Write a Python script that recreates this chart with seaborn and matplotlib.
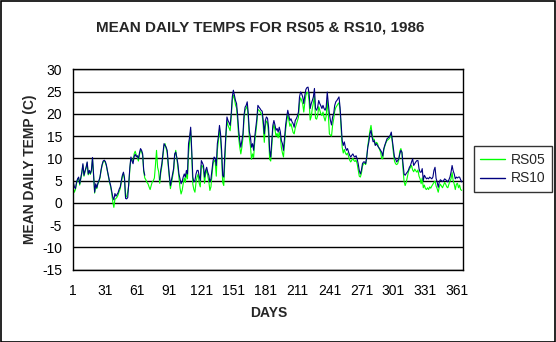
import numpy as np
import pandas as pd
import matplotlib
matplotlib.use("Agg")
import matplotlib.pyplot as plt
import seaborn as sns
from matplotlib.lines import Line2D
from matplotlib.patches import Rectangle

title = "MEAN DAILY TEMPS FOR RS05 & RS10, 1986"
xlabel = "DAYS"
ylabel = "MEAN DAILY TEMP (C)"
series_names = ["RS05", "RS10"]
series_colors = ["#00FF00", "#000080"]
xticks = [1, 31, 61, 91, 121, 151, 181, 211, 241, 271, 301, 331, 361]
yticks = [-15, -10, -5, 0, 5, 10, 15, 20, 25, 30]

nan = np.nan
rs10 = [
    4.7, 3.6, 3.2, 4.6, 5.4, 5.8, 4.3, 5.6, 6.9, 8.8,
    6.2, 7.2, 8.0, 9.2, 6.5, 7.3, 6.6, 7.4, 10.2, 6.4,
    2.4, 4.3, 3.4, 4.4, 5.0, 5.8, 7.4, 8.6, 9.4, 9.6,
    9.3, 8.5, 7.2, 6.0, 4.8, 3.9, 2.6, 1.3, 0.7, 2.1,
    1.5, 1.9, 2.3, 3.1, 3.6, 5.0, 6.2, 6.9, 5.6, 1.0,
    0.9, 1.2, 4.5, 8.0, 10.3, 9.4, 8.8, 10.4, 10.9, 10.4,
    10.6, 9.9, 11.2, 12.2, 11.8, 11.0, 7.3, 6.2, nan, nan,
    nan, nan, nan, nan, nan, nan, nan, nan, nan, nan,
    nan, 5.2, 7.4, 8.8, 11.0, 13.3, 12.9, 12.5, 11.8, 8.8,
    6.2, 3.9, 5.2, 6.5, 7.7, 11.0, 11.4, 10.2, 8.8, 6.5,
    5.4, 4.3, 4.8, 5.8, 6.5, 5.8, 7.3, 6.5, 13.3, 14.8,
    17.0, 11.8, 5.8, 4.7, 5.0, 6.5, 7.3, 7.3, 6.0, 5.0,
    9.5, 9.0, 8.4, 5.8, 7.3, 8.0, 6.9, 6.2, 4.7, 5.4,
    7.5, 9.5, 10.3, 10.0, 8.4, 13.3, 15.0, 17.4, 15.5, 11.8,
    6.2, 5.8, 11.0, 15.5, 19.3, 18.5, 18.0, 17.4, 20.0, 23.8,
    25.3, 24.2, 23.0, 22.3, 19.7, 16.3, 14.0, 12.5, 14.0, 15.5,
    19.7, 21.5, 21.9, 22.7, 20.0, 16.0, 14.8, 12.5, 13.3, 11.8,
    14.8, 16.8, 18.9, 21.9, 21.5, 21.2, 20.8, 20.6, 18.5, 15.5,
    18.5, 19.3, 19.0, 17.0, 11.8, 10.3, 14.0, 17.4, 18.5, 17.5,
    16.3, 16.7, 15.9, 17.0, 16.0, 14.0, 13.3, 11.8, 14.8, 17.5,
    19.3, 20.8, 19.7, 18.5, 18.9, 18.2, 17.8, 17.0, 18.5, 18.9,
    19.5, 20.4, 23.8, 24.9, 24.5, 23.8, 22.3, 24.2, 25.5, 25.9,
    26.0, 24.5, 21.2, 22.3, 23.0, 23.8, 25.7, 21.2, 20.8, 21.5,
    23.0, 22.3, 21.8, 21.2, 21.9, 21.2, 20.8, 21.5, 24.9, 22.3,
    20.0, 18.5, 17.5, 19.3, 20.0, 21.9, 22.7, 23.0, 23.4, 23.8,
    21.5, 17.8, 14.0, 12.9, 13.7, 12.5, 11.8, 12.2, 11.4, 10.7,
    10.3, 10.7, 11.0, 10.5, 10.3, 10.6, 9.9, 8.8, 7.3, 6.5,
    7.3, 8.8, 9.2, 9.2, 8.8, 10.3, 12.5, 13.7, 15.5, 16.3,
    14.8, 13.7, 14.0, 12.9, 13.3, 12.9, 12.5, 12.2, 11.8, 11.4,
    10.5, 12.2, 13.0, 13.7, 14.4, 14.6, 14.8, 15.2, 15.9, 14.0,
    12.0, 10.3, 9.9, 9.2, 9.5, 9.9, 11.0, 11.8, 11.4, 8.8,
    6.5, 6.2, 6.6, 6.9, 7.3, 8.0, 8.4, 9.2, 9.9, 8.4,
    8.8, 9.2, 9.5, 9.5, 7.7, 6.9, 6.9, 7.7, 5.0, 6.2,
    5.8, 5.4, 5.6, 5.4, 5.8, 5.6, 5.4, 5.8, 7.3, 8.0,
    5.5, 4.7, 3.5, 4.7, 5.2, 5.0, 4.8, 5.0, 5.4, 5.2,
    5.0, 4.7, 5.2, 5.8, 6.9, 8.4, 7.2, 6.5, 5.4, 5.8,
    5.6, 5.8, 5.8, 5.2, 4.7,
]
rs05 = [
    3.3, 2.4, 3.0, 4.3, 5.2, 5.6, 4.0, 5.3, 6.7, 8.5,
    6.0, 7.0, 7.8, 9.0, 6.3, 7.1, 6.4, 7.2, 9.9, 6.1,
    2.2, 4.1, 3.2, 4.2, 4.8, 5.6, 7.2, 8.4, 9.2, 9.4,
    9.1, 8.3, 7.0, 5.8, 4.6, 3.6, 2.2, 0.2, -1.0, 0.8,
    1.0, 1.3, 1.8, 2.6, 3.2, 4.6, 5.9, 6.6, 5.2, 1.2,
    1.5, 2.5, 4.0, 7.6, 10.0, 9.8, 9.3, 11.0, 11.6, 10.8,
    10.2, 9.4, 10.8, 11.9, 11.5, 10.6, 7.0, 5.6, 5.2, 4.6,
    4.3, 3.6, 3.0, 3.9, 4.7, 5.0, 5.6, 8.5, 11.8, 8.0,
    7.0, 4.4, 6.8, 8.2, 10.5, 12.8, 13.3, 12.2, 11.2, 8.2,
    5.6, 3.2, 4.4, 5.8, 7.2, 10.4, 11.8, 10.0, 8.0, 5.6,
    3.4, 2.0, 2.8, 4.3, 5.6, 4.6, 6.6, 5.4, 11.0, 13.8,
    16.3, 10.6, 4.2, 3.0, 2.4, 4.6, 5.8, 6.5, 4.4, 3.6,
    8.4, 8.3, 7.6, 4.4, 6.5, 7.4, 6.1, 4.8, 2.8, 3.6,
    6.4, 8.8, 9.6, 9.2, 6.0, 11.8, 14.0, 16.5, 14.4, 10.4,
    4.6, 3.9, 9.4, 14.6, 18.4, 17.4, 16.8, 16.2, 19.2, 23.0,
    24.2, 23.4, 22.0, 21.3, 18.4, 14.6, 12.5, 11.0, 12.5, 14.6,
    18.8, 20.8, 21.2, 21.9, 19.0, 14.5, 12.8, 9.8, 11.0, 10.2,
    13.6, 15.8, 17.9, 21.0, 20.8, 20.5, 20.0, 19.8, 17.3, 13.6,
    17.2, 18.4, 18.0, 15.5, 9.8, 9.4, 12.6, 16.5, 17.6, 16.4,
    15.0, 15.6, 14.6, 15.9, 14.8, 12.4, 11.2, 10.3, 13.2, 16.4,
    18.3, 19.8, 18.6, 17.2, 17.8, 16.8, 15.8, 15.5, 16.8, 17.6,
    18.4, 19.2, 22.4, 23.6, 23.0, 22.2, 20.4, 22.6, 24.2, 24.8,
    24.8, 22.8, 18.6, 19.4, 21.2, 22.5, 24.0, 19.0, 18.8, 19.6,
    21.6, 20.8, 20.0, 19.6, 20.4, 19.2, 18.4, 19.5, 23.0, 20.0,
    15.5, 15.2, 15.0, 17.4, 18.8, 20.6, 21.4, 21.8, 22.2, 22.5,
    20.8, 16.5, 12.5, 11.2, 12.0, 11.2, 10.8, 11.2, 10.4, 9.6,
    9.2, 9.6, 10.0, 9.5, 9.3, 9.6, 8.8, 7.4, 6.0, 5.8,
    6.6, 8.2, 8.8, 8.9, 8.6, 10.2, 12.8, 14.6, 16.2, 17.4,
    15.6, 14.2, 14.3, 13.0, 13.6, 13.4, 12.6, 12.0, 11.4, 10.0,
    9.9, 11.9, 12.8, 13.5, 14.0, 14.2, 14.4, 14.8, 15.4, 13.6,
    11.2, 9.4, 8.8, 8.6, 8.8, 9.6, 11.6, 12.2, 11.2, 7.6,
    4.8, 3.9, 4.6, 5.8, 6.9, 7.6, 8.0, 8.4, 7.4, 7.0,
    7.6, 7.2, 6.9, 7.4, 6.0, 5.4, 4.3, 5.6, 3.4, 4.0,
    3.2, 3.0, 3.4, 3.0, 3.6, 3.3, 3.8, 4.2, 4.6, 4.9,
    3.8, 3.2, 2.4, 3.6, 4.2, 3.8, 3.4, 4.0, 4.6, 4.2,
    3.6, 3.4, 4.2, 4.8, 5.4, 6.8, 5.0, 4.2, 3.0, 4.2,
    4.4, 3.4, 4.0, 3.0, 2.8,
]

days = np.arange(1, len(rs10) + 1)

frames = []
for name, vals in zip(series_names, [rs05, rs10]):
    v = pd.Series(vals, dtype=float)
    seg = v.isna().cumsum()
    d = pd.DataFrame({"day": days, "temp": v, "series": name, "seg": seg})
    frames.append(d.dropna())
df = pd.concat(frames, ignore_index=True)

sns.set_style("white")
plt.rcParams["font.family"] = ["Liberation Sans", "DejaVu Sans"]
plt.rcParams["axes.unicode_minus"] = False

fig = plt.figure(figsize=(5.56, 3.42), dpi=100)
fig.patch.set_facecolor("white")
ax = fig.add_axes([73.3 / 556, 1 - 269.7 / 342, 390 / 556, 200.4 / 342])

sns.lineplot(data=df, x="day", y="temp", hue="series", units="seg",
             estimator=None, palette=dict(zip(series_names, series_colors)),
             hue_order=series_names, linewidth=0.8, ax=ax, legend=False,
             sort=True)

ax.set_xlim(1, 366.5)
ax.set_ylim(-15, 30)
ax.set_xticks(xticks)
ax.set_xticklabels([str(t) for t in xticks])
ax.set_yticks(yticks)
ax.set_yticklabels([str(t) for t in yticks])
ax.yaxis.grid(True, color="black", linewidth=1.0)
ax.xaxis.grid(False)
ax.set_axisbelow(True)
for s in ax.spines.values():
    s.set_color("black")
    s.set_linewidth(1.0)
    s.set_visible(True)
ax.tick_params(axis="both", direction="out", length=4, width=1, color="black",
               labelsize=10, pad=3, labelcolor="black")
ax.tick_params(axis="x", pad=6)
ax.tick_params(axis="y", pad=4)

ax.set_xlabel(xlabel, fontsize=10, fontweight="bold", labelpad=6)
ax.set_ylabel(ylabel, fontsize=10, fontweight="bold", labelpad=4)
fig.text(260 / 556, 1 - 27 / 342, title, ha="center", va="center",
         fontsize=11, fontweight="bold")

handles = [Line2D([], [], color=c, linewidth=1.0) for c in series_colors]
leg = fig.legend(handles, series_names, loc="center left",
                 bbox_to_anchor=(474 / 556, 1 - 169 / 342),
                 frameon=True, fancybox=False, fontsize=10,
                 handlelength=1.8, handletextpad=0.4, borderpad=0.45,
                 labelspacing=0.35, borderaxespad=0)
leg.get_frame().set_edgecolor("black")
leg.get_frame().set_linewidth(1.0)

fig.patches.append(Rectangle((0.5 / 556, 0.5 / 342), 1 - 1.5 / 556, 1 - 1.5 / 342,
                             transform=fig.transFigure, fill=False,
                             edgecolor="black", linewidth=1.2))

fig.savefig("out.png", dpi=100)
